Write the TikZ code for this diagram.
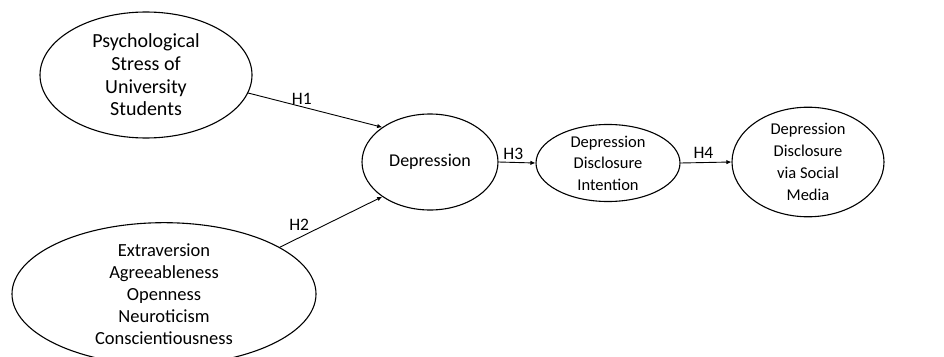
\documentclass[tikz,border=0pt]{standalone}
\usepackage{fontspec}
\setmainfont{Carlito}
\usetikzlibrary{shapes.geometric,arrows.meta}
\tikzset{
  construct/.style={draw, ellipse, line width=1.1pt, inner sep=0pt, align=center},
  path/.style={line width=0.9pt, -{Latex[length=5pt,width=4.5pt]}},
  hyp/.style={font=\fontsize{17.5}{20}\selectfont, inner sep=2pt}
}
\begin{document}
\begin{tikzpicture}[x=1pt,y=-1pt]
\useasboundingbox (0,0) rectangle (944,356);
\node[construct, minimum width=212pt, minimum height=126pt,
  font=\fontsize{20}{22.7}\selectfont] (stress) at (146,75)
  {Psychological\\Stress of\\University\\Students};
\node[construct, minimum width=304pt, minimum height=124pt,
  font=\fontsize{18.5}{22}\selectfont] (traits) at (164,294)
  {Extraversion\\Agreeableness\\Openness\\Neuroticism\\Conscientiousness};
\node[construct, minimum width=136pt, minimum height=96pt,
  font=\fontsize{18}{22}\selectfont] (dep) at (430,162)
  {Depression};
\node[construct, minimum width=144pt, minimum height=77pt,
  font=\fontsize{16.5}{21.5}\selectfont] (intent) at (608,163)
  {Depression\\Disclosure\\Intention};
\node[construct, minimum width=152pt, minimum height=100pt,
  font=\fontsize{16.5}{22}\selectfont] (media) at (808,162)
  {Depression\\Disclosure\\via Social\\Media};
\draw[path] (stress.-10) -- node[hyp, pos=0.4, above] {H1} (dep.144);
\draw[path] (traits.22) -- node[hyp, pos=0.3, above left, inner sep=1pt] {H2} (dep.216);
\draw[path] (dep.east) -- node[hyp, pos=0.4, above] {H3} (intent.west);
\draw[path] (intent.east) -- node[hyp, pos=0.45, above, yshift=2pt] {H4} (media.west);
\end{tikzpicture}
\end{document}
